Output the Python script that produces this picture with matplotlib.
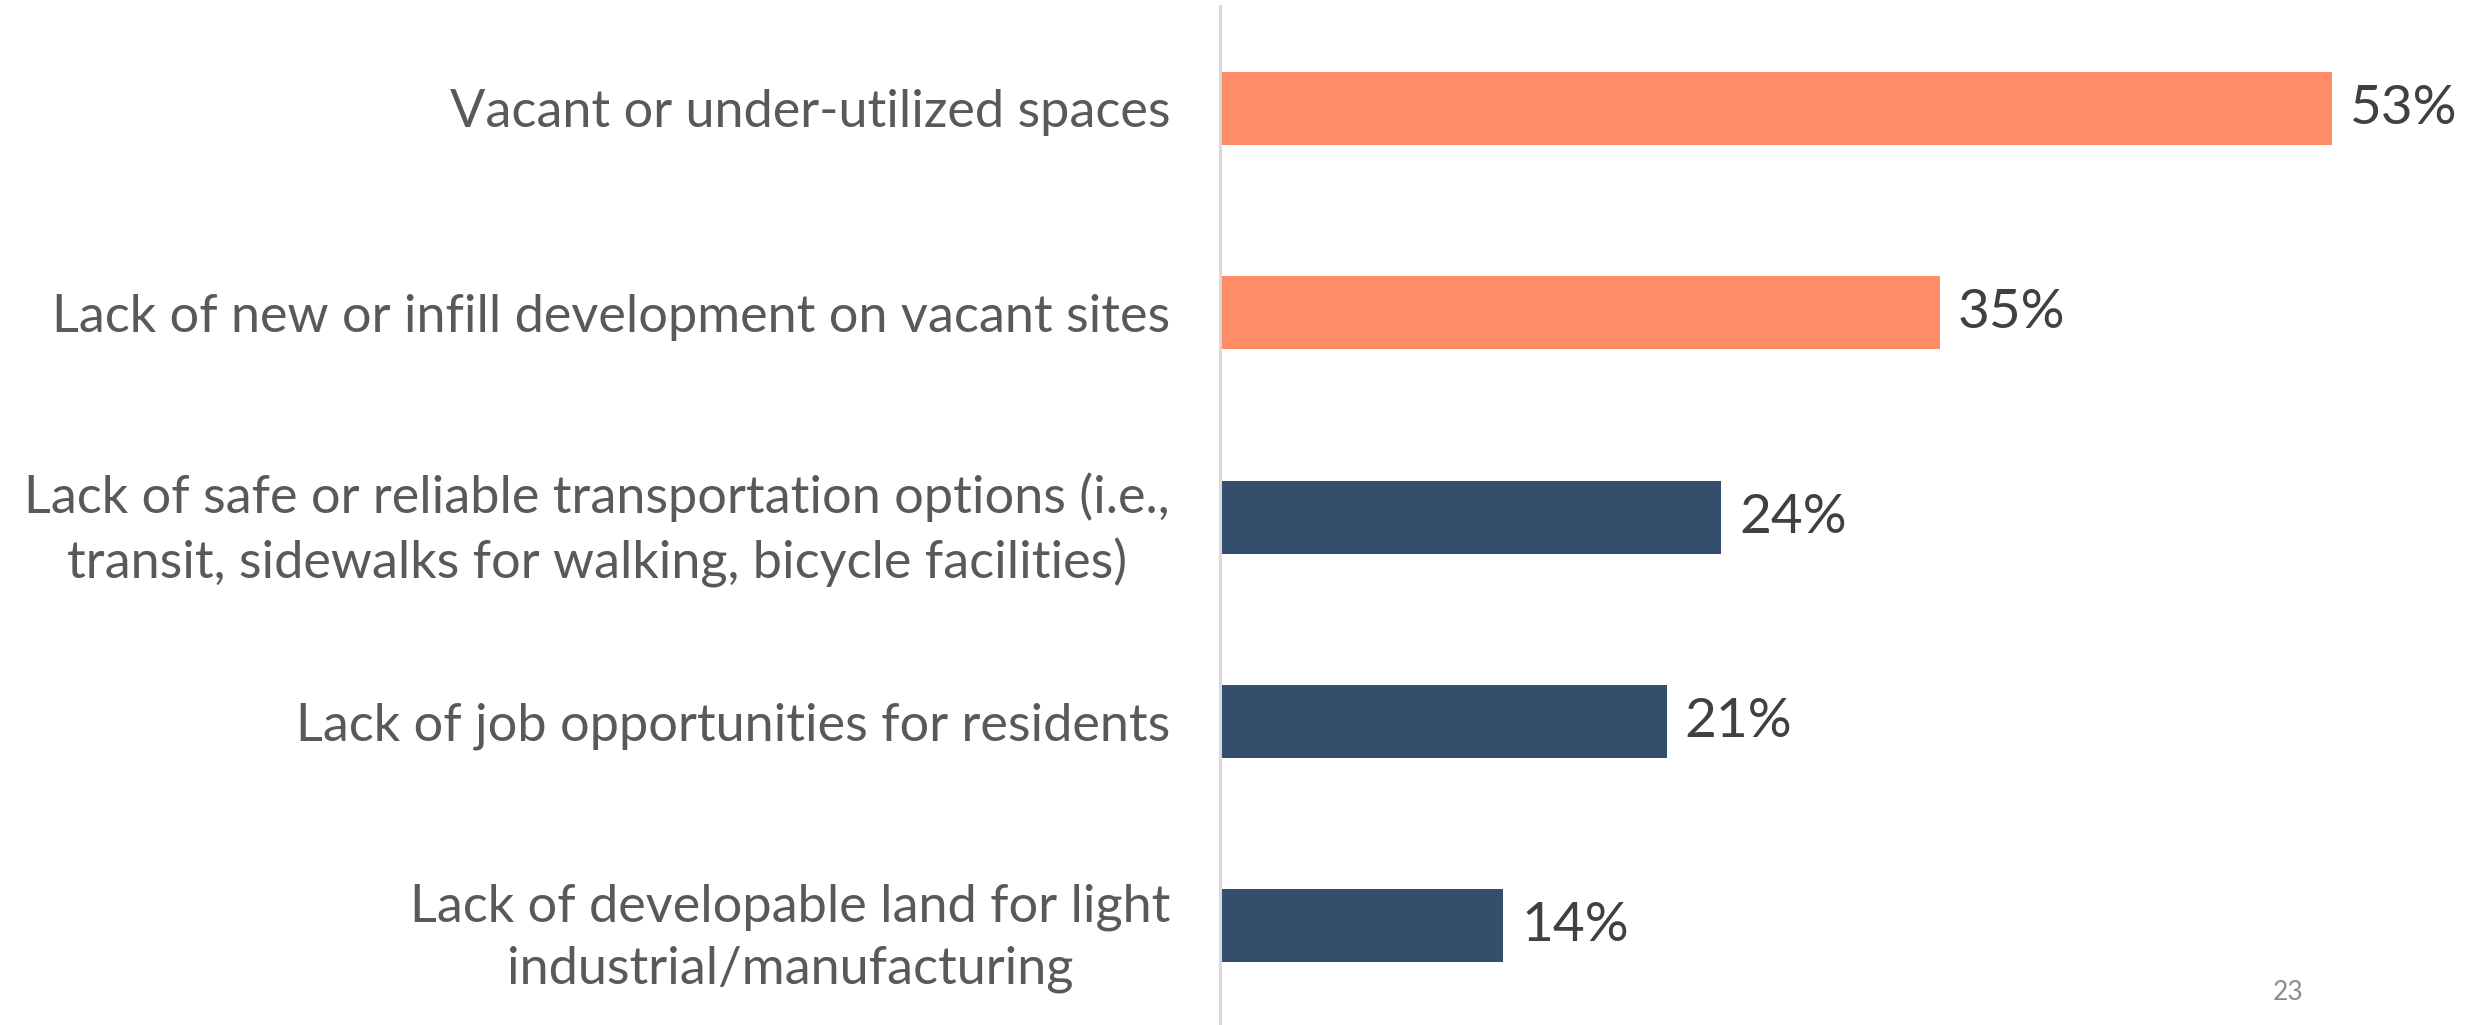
import matplotlib
matplotlib.use("Agg")
import matplotlib.pyplot as plt

plt.rcParams['font.family'] = ['Lato', 'DejaVu Sans']

categories = [
    "Vacant or under-utilized spaces",
    "Lack of new or infill development on vacant sites",
    "Lack of safe or reliable transportation options (i.e.,\ntransit, sidewalks for walking, bicycle facilities)",
    "Lack of job opportunities for residents",
    "Lack of developable land for light\nindustrial/manufacturing",
]
values = [53.0, 34.3, 23.9, 21.3, 13.5]
value_labels = ["53%", "35%", "24%", "21%", "14%"]
bar_colors = ["#FF8B67", "#FF8B67", "#334F6C", "#334F6C", "#334F6C"]
page_number = "23"

W, H, DPI = 2470, 1025, 100
fig = plt.figure(figsize=(W / DPI, H / DPI), dpi=DPI)
fig.patch.set_facecolor("white")

ax_left = 1220 / W
ax_right = 0.97
ax = fig.add_axes([ax_left, -0.003, ax_right - ax_left, 0.997])

pos = list(range(len(categories)))
ax.barh(pos, values, height=0.357, color=bar_colors)
ax.set_ylim(len(categories) - 0.5, -0.5)
ax.set_xlim(0, (ax_right * W - 1220) / 20.98)

ax.set_yticks(pos)
ax.set_yticklabels(categories, fontsize=37.6, color="#595959",
                   ha="right", multialignment="center", linespacing=1.4)
ax.tick_params(axis="y", length=0, pad=50 * 72 / DPI)
ax.tick_params(axis="x", bottom=False, labelbottom=False)

for s in ["top", "right", "bottom"]:
    ax.spines[s].set_visible(False)
ax.spines["left"].set_color("#D9D9D9")
ax.spines["left"].set_linewidth(2.2)

for p, v, lab in zip(pos, values, value_labels):
    ax.annotate(lab, xy=(v, p), xytext=(18 * 72 / DPI, 0), textcoords="offset points",
                ha="left", va="center", fontsize=39.5, color="#404040")

fig.text(2288 / W, 1 - 992 / H, page_number, fontsize=19, color="#8C8C8C",
         ha="center", va="center")

fig.savefig("out.png", dpi=DPI, facecolor="white")
